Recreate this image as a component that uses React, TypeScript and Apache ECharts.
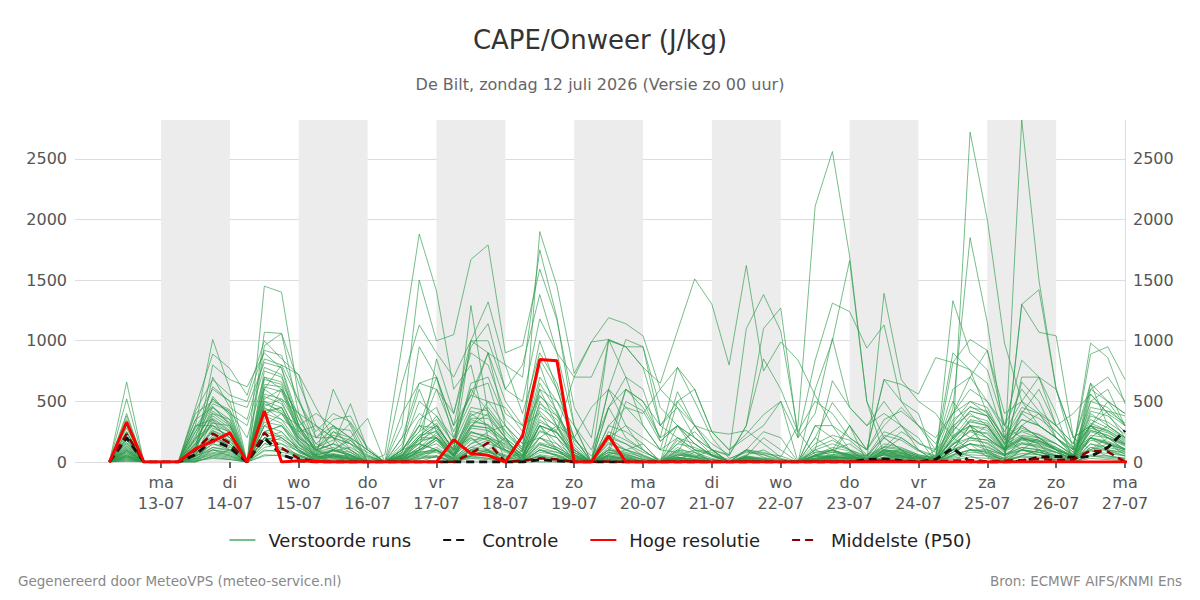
import { useEffect, useRef } from "react";
import * as echarts from "echarts";

const FONT = "DejaVu Sans";

// time layout: first value 12-07 06:00 UTC, one value every 6 hours
const START_UTC = Date.UTC(2026, 6, 12, 6);
const STEP_MS = 6 * 3600 * 1000;
const AXIS_MIN = Date.UTC(2026, 6, 11, 18);
const AXIS_MAX = Date.UTC(2026, 6, 27, 0);
const tickDays = [13, 14, 15, 16, 17, 18, 19, 20, 21, 22, 23, 24, 25, 26, 27];
const nightBandDays = [13, 15, 17, 19, 21, 23, 25];
const dayNames = ["zo", "ma", "di", "wo", "do", "vr", "za"];
const yTicks = [0, 500, 1000, 1500, 2000, 2500];

// Hoge resolutie (HRES)
const hres = [0,330,0, 0,0,110,170, 240,0,420,0, 10,5,0,0, 0,0,0,0, 0,185,70,55, 0,215,845,835, 0,0,215,0, 0,0,0,0, 0,0,0,0, 0,0,0,0, 0,0,0,0, 0,0,0,0, 0,0,0,0, 0,0,0,0, 0,0,0,0, 0];
// Controle
const control = [0,200,0, 0,0,60,180, 120,0,200,60, 10,0,0,0, 0,0,0,0, 0,0,0,0, 0,0,20,10, 0,0,0,0, 0,0,0,0, 0,0,0,0, 0,0,0,0, 0,20,25,10, 0,20,115,0, 0,0,5,40, 45,40,45,120, 260];
// Middelste (P50)
const p50 = [0,230,0, 0,0,100,235, 155,0,240,115, 30,5,0,0, 0,0,0,0, 0,0,70,160, 0,10,30,20, 0,0,5,0, 0,0,5,5, 0,0,5,0, 0,0,5,5, 5,5,10,5, 0,5,10,15, 5,10,15,25, 15,20,95,85, 0];

// Verstoorde runs (ensemble members)
const m01 = [0,660,0, 0,0,120,540, 380,0,1450,1400, 530,100,30,0, 0,0,150,600, 250,40,200,90, 0,20,600,300, 0,0,40,20, 0,0,80,300, 250,230,260,150, 40,300,2110,2560, 1700,500,60,20, 0,0,100,300, 60,20,200,150, 0,0,600,500, 300];
const m02 = [0,520,0, 0,0,300,1010, 600,0,1070,1060, 400,50,600,300, 0,0,50,200, 300,100,1290,400, 0,10,300,150, 0,0,20,10, 0,0,20,80, 0,0,50,20, 0,0,200,490, 300,100,680,500, 400,0,1330,900, 760,300,200,100, 50,0,560,400, 200];
const m03 = [0,400,0, 0,0,450,890, 770,550,1000,850, 720,450,200,0, 0,60,960,1880, 1410,600,800,200, 0,100,1900,1450, 730,990,1190,1140, 1040,600,780,500, 200,30,80,60, 20,0,200,100, 40,0,20,10, 0,0,80,150, 40,0,1300,1420, 600,100,980,860, 480];
const m04 = [0,380,0, 0,0,200,620, 500,0,960,1060, 650,300,100,200, 360,0,300,1500, 1000,1050,1670,1790, 900,960,1590,1170, 450,200,1010,950, 780,300,500,600, 250,100,230,390, 500,0,300,200, 100,0,60,30, 0,60,440,1850, 1150,200,100,60, 0,0,200,150, 100];
const m05 = [0,330,0, 0,0,100,800, 680,620,900,770, 300,0,0,0, 0,0,650,1130, 900,700,1000,1320, 800,700,1750,1190, 300,0,1000,950, 780,650,1080,1510, 1300,800,1620,750, 990,840,550,300, 100,0,30,20, 0,0,200,300, 100,60,700,700, 300,100,200,100, 50];
const m06 = [0,300,0, 0,0,50,700, 450,350,850,800, 500,200,350,380, 100,0,80,950, 700,300,950,1140, 600,800,1380,900, 300,0,600,450, 300,100,200,100, 60,20,100,40, 0,0,100,50, 20,0,30,0, 0,40,820,1010, 920,300,840,700, 400,0,300,200, 150];
const m07 = [0,250,0, 0,0,400,500, 430,0,750,700, 300,100,250,150, 0,0,30,100, 850,400,1000,1000, 600,500,1180,900, 700,700,1010,950, 950,450,300,200, 100,50,300,1100, 1270,200,840,1310, 1240,940,1130,500, 300,200,400,700, 920,400,500,700, 600,200,300,500, 400];
const m08 = [0,200,0, 0,0,150,450, 350,0,700,600, 400,300,200,100, 0,0,50,300, 700,200,500,900, 300,100,800,400, 100,0,200,100, 50,0,60,40, 100,60,1100,1380, 1080,250,60,40, 40,0,200,100, 0,100,900,760, 650,200,400,300, 200,100,890,950, 680];
const m09 = [0,180,0, 0,0,250,520, 400,0,600,500, 200,100,300,200, 0,0,400,650, 600,400,900,800, 400,300,1000,600, 200,0,450,700, 600,170,300,100, 50,0,20,10, 0,0,50,20, 0,0,100,200, 100,0,300,400, 300,100,660,500, 200,50,400,300, 200];
const m10 = [0,150,0, 0,0,50,350, 250,0,500,450, 150,0,50,20, 0,0,100,250, 350,150,600,650, 200,0,500,300, 100,0,50,30, 0,0,40,20, 0,0,0,0, 0,0,20,50, 300,100,680,640, 560,860,820,760, 400,200,300,200, 100,0,500,600, 300];
const m11 = [0,120,0, 0,0,200,300, 200,0,400,350, 250,100,150,480, 100,0,0,200, 300,100,400,300, 100,50,200,300, 200,0,100,50, 0,0,300,200, 100,0,20,0, 0,0,50,100, 300,0,1390,680, 500,400,200,2720, 2000,980,500,300, 200,100,300,150, 100];
const m12 = [0,100,0, 0,0,80,250, 150,0,300,250, 100,0,100,80, 0,0,200,400, 300,100,200,100, 0,0,100,50, 0,0,0,0, 0,0,0,0, 0,0,0,0, 0,0,20,40, 60,50,100,80, 0,0,100,150, 100,50,2820,1500, 600,200,100,50, 30];
const m13 = [0,80,0, 0,0,0,200, 100,0,200,150, 50,0,0,0, 0,0,100,300, 200,100,1000,900, 500,300,400,200, 0,0,0,0, 0,0,0,0, 0,0,0,0, 0,0,0,0, 0,0,30,50, 0,0,200,100, 100,0,1300,1070, 1040,200,300,200, 100];
const m14 = [0,60,0, 0,0,100,400, 300,0,600,800, 720,200,300,100, 0,0,50,100, 200,50,300,400, 200,0,300,100, 0,0,50,20, 0,0,20,0, 0,0,0,0, 0,0,600,1000, 1660,500,200,100, 0,0,100,50, 0,0,50,100, 0,0,0,0, 0];
const m15 = [0,50,0, 0,0,0,100, 50,0,300,200, 100,0,0,0, 0,0,0,100, 200,0,100,50, 0,0,200,100, 0,0,100,600, 500,300,200,100, 0,0,0,0, 0,0,50,100, 50,0,0,0, 0,0,0,100, 50,0,100,200, 100,50,100,200, 100];
const m16 = [0,40,0, 0,0,300,300, 200,0,500,400, 300,400,300,200, 100,0,0,50, 100,0,50,100, 0,0,50,0, 0,0,0,0, 0,0,0,0, 0,0,0,0, 0,0,0,0, 0,0,0,0, 0,0,50,200, 300,100,400,600, 300,400,560,400, 300];
const m17 = [0,30,0, 0,0,0,50, 100,0,200,100, 50,0,0,0, 0,0,0,0, 0,0,50,30, 0,0,0,0, 0,0,0,0, 0,0,500,300, 100,0,0,0, 0,0,100,670, 450,300,500,300, 100,0,100,300, 200,100,300,200, 100,0,650,300, 200];
const m18 = [0,20,0, 0,0,50,100, 80,0,300,400, 200,100,50,0, 0,0,30,150, 100,20,80,50, 0,0,100,60, 0,0,20,10, 0,0,30,20, 0,0,40,10, 0,0,20,30, 50,20,60,80, 40,0,150,200, 180,60,150,120, 80,0,200,150, 60];
const m19 = [0,300,0, 0,0,350,600, 500,450,820,780, 350,150,280,260, 0,0,80,350, 450,120,650,700, 350,200,850,600, 150,0,250,180, 100,0,120,60, 20,0,30,20, 0,0,50,40, 30,0,80,50, 0,30,250,420, 380,150,350,300, 200,60,420,380, 250];
const m20 = [0,220,0, 0,0,180,420, 320,0,560,520, 280,80,120,60, 0,0,60,220, 320,90,420,380, 200,80,650,420, 120,0,160,100, 60,0,90,40, 0,0,20,0, 0,0,30,50, 70,30,120,100, 50,40,320,500, 450,180,280,220, 150,50,320,260, 180];
const m21 = [0,160,0, 0,0,120,380, 280,0,480,420, 180,60,90,120, 40,0,40,180, 260,60,350,300, 180,50,420,280, 80,0,120,60, 20,0,40,20, 0,0,10,0, 0,0,20,30, 40,20,80,60, 30,20,180,350, 320,120,200,180, 100,40,250,200, 140];
const m22 = [0,140,0, 0,0,80,280, 220,0,380,320, 140,40,60,40, 0,0,30,120, 200,40,280,260, 140,40,350,240, 60,0,80,40, 0,0,30,10, 0,0,0,0, 0,0,20,20, 30,10,60,40, 20,10,140,260, 240,100,160,140, 80,30,200,160, 110];
const m23 = [0,110,0, 0,0,220,460, 300,0,680,640, 260,120,180,320, 60,0,20,80, 180,30,150,250, 300,150,200,120, 40,0,60,100, 150,0,180,80, 30,0,60,100, 20,0,150,220, 180,60,120,250, 160,80,300,200, 180,100,420,360, 250,120,300,420, 380];
const m24 = [0,90,0, 0,0,60,180, 150,0,250,300, 100,30,40,20, 0,0,120,500, 380,200,600,420, 250,120,700,500, 300,100,450,200, 100,0,60,30, 0,0,0,0, 0,0,0,10, 0,0,20,40, 30,0,60,100, 80,30,100,60, 40,0,120,90, 50];
const m25 = [0,70,0, 0,0,40,150, 120,0,200,180, 80,20,100,180, 50,0,10,60, 120,30,280,500, 450,250,550,380, 180,50,220,150, 80,20,150,120, 60,0,100,80, 30,0,120,180, 100,40,220,180, 90,40,280,460, 380,160,250,200, 150,60,350,280, 190];
const m26 = [0,50,0, 0,0,30,120, 90,0,180,220, 120,40,60,30, 0,0,40,100, 150,50,220,180, 90,30,260,200, 60,0,100,80, 40,0,70,50, 20,0,90,60, 0,0,60,120, 90,30,150,120, 60,30,220,300, 280,110,190,170, 120,40,280,240, 160];
const m27 = [0,250,0, 0,0,280,520, 400,300,780,720, 300,90,150,100, 20,0,200,650, 700,300,550,900, 800,400,900,650, 200,450,600,300, 100,0,200,150, 50,0,100,250, 200,0,300,300, 200,100,350,420, 300,100,600,700, 500,300,600,420, 300,150,600,700, 500];
const m28 = [0,200,0, 0,0,160,360, 260,0,620,580, 230,70,100,60, 0,0,100,300, 280,80,380,450, 260,90,480,380, 100,0,600,1010, 950,300,450,200, 60,0,40,20, 0,0,40,60, 50,20,90,70, 40,20,200,380, 340,140,220,200, 120,50,300,260, 170];
const m29 = [0,180,0, 0,0,90,260, 170,0,420,450, 180,50,70,40, 0,0,50,160, 220,60,300,280, 160,60,330,260, 700,990,1010,700, 300,100,80,40, 20,0,30,10, 0,0,30,40, 40,10,70,50, 30,10,160,300, 260,100,180,160, 100,40,220,200, 130];
const m30 = [0,130,0, 0,0,70,220, 130,0,330,300, 120,40,50,30, 0,0,70,220, 250,70,330,310, 180,60,300,240, 80,0,300,450, 400,600,450,300, 100,0,40,20, 0,0,50,80, 60,30,100,90, 50,20,200,330, 300,120,210,180, 110,50,260,220, 150];
const m31 = [0,100,0, 0,0,140,330, 240,0,520,600, 280,200,200,150, 80,0,0,100, 200,50,180,200, 120,40,160,120, 40,0,300,250, 150,0,100,50, 0,0,40,0, 0,0,0,30, 20,0,40,60, 30,0,100,150, 120,60,100,80, 50,0,150,100, 80];
const m32 = [0,90,0, 0,0,60,200, 180,0,460,520, 400,150,100,50, 0,0,20,80, 100,30,120,180, 80,20,150,100, 30,0,60,40, 0,0,150,250, 100,0,50,200, 100,0,80,100, 60,0,100,50, 0,0,150,250, 200,80,300,400, 200,80,300,250, 150];
const m33 = [0,60,0, 0,0,30,80, 60,0,120,150, 90,20,40,20, 0,0,20,60, 80,10,100,90, 50,10,120,80, 30,0,50,30, 0,0,20,10, 0,0,0,0, 0,0,10,20, 20,0,40,30, 10,0,80,150, 130,50,100,80, 50,20,120,100, 70];
const m34 = [0,40,0, 0,0,20,60, 40,0,90,100, 60,10,20,10, 0,0,10,40, 50,10,60,60, 30,0,80,60, 20,0,30,20, 0,0,10,0, 0,0,0,0, 0,0,0,10, 10,0,20,20, 0,0,50,100, 90,30,70,60, 30,10,90,70, 50];
const m35 = [0,350,0, 0,0,420,680, 550,500,920,880, 500,250,400,330, 120,0,100,250, 600,250,550,500, 300,150,600,500, 200,0,200,150, 50,0,100,80, 0,0,50,30, 0,0,100,150, 100,50,200,300, 200,0,400,600, 500,250,500,400, 250,100,500,450, 300];
const m36 = [0,280,0, 0,0,250,480, 420,200,700,660, 350,120,220,180, 30,0,60,200, 380,150,450,420, 230,100,540,420, 100,0,180,600, 450,200,300,150, 60,0,20,0, 0,0,50,100, 150,50,250,200, 100,50,350,450, 420,180,350,300, 200,80,450,420, 320];
const m37 = [0,240,0, 0,0,190,400, 350,0,640,620, 300,100,150,80, 0,0,40,150, 300,100,360,360, 200,80,450,350, 80,0,150,100, 30,0,60,40, 0,0,30,0, 0,0,30,60, 80,30,130,110, 60,30,260,420, 380,150,260,230, 150,60,380,330, 230];
const m38 = [0,190,0, 0,0,130,320, 300,0,540,480, 220,60,90,60, 0,0,30,120, 240,70,300,280, 170,60,380,300, 60,0,100,70, 20,0,40,20, 0,0,10,0, 0,0,20,40, 40,20,90,70, 40,20,180,340, 300,110,190,170, 100,40,260,220, 140];
const m39 = [0,160,0, 0,0,100,260, 200,0,440,400, 170,40,60,30, 0,0,20,90, 180,50,240,220, 130,40,300,240, 40,0,80,50, 10,0,30,10, 0,0,0,0, 0,0,10,30, 30,10,70,50, 30,10,140,260, 230,90,150,130, 80,30,200,170, 110];
const m40 = [0,130,0, 0,0,350,450, 320,0,450,350, 150,50,250,200, 100,0,0,0, 50,0,50,100, 200,0,100,50, 0,0,0,0, 0,0,0,0, 0,0,0,0, 0,0,0,0, 0,0,0,0, 0,0,0,0, 0,0,50,100, 0,0,50,30, 20];
const m41 = [0,110,0, 0,0,0,50, 30,0,100,80, 50,0,0,0, 0,0,0,0, 0,0,0,0, 0,0,0,0, 0,0,0,0, 0,0,0,0, 0,0,0,0, 0,0,0,0, 0,0,0,0, 0,0,0,0, 0,0,0,0, 0,0,0,0, 0];
const m42 = [0,90,0, 0,0,10,40, 20,0,60,50, 30,0,0,0, 0,0,0,30, 40,0,30,20, 0,0,50,20, 0,0,0,0, 0,0,0,0, 0,0,0,0, 0,0,0,0, 0,0,0,0, 0,0,20,40, 30,0,20,10, 0,0,30,20, 10];
const m43 = [0,75,0, 0,0,20,70, 50,0,150,200, 100,20,50,30, 0,0,20,70, 90,20,120,100, 60,20,140,100, 30,0,60,500, 420,170,300,150, 50,0,20,10, 0,0,30,40, 30,10,60,40, 20,0,100,180, 160,60,120,100, 60,20,150,120, 90];
const m44 = [0,55,0, 0,0,10,30, 20,0,50,60, 30,0,10,0, 0,0,10,30, 40,0,40,30, 20,0,50,30, 10,0,20,10, 0,0,0,0, 0,0,0,0, 0,0,0,0, 0,0,10,10, 0,0,40,80, 70,20,50,40, 20,0,60,50, 30];
const m45 = [0,45,0, 0,0,150,300, 250,0,400,450, 200,50,100,50, 0,0,100,150, 100,30,150,200, 100,30,200,150, 50,0,200,300, 200,100,580,300, 150,60,300,850, 600,250,500,400, 200,100,300,450, 300,150,400,500, 400,200,450,400, 300,150,650,500, 400];
const m46 = [0,35,0, 0,0,50,150, 100,0,250,200, 80,20,50,20, 0,0,50,200, 200,50,250,200, 100,30,250,200, 50,0,450,600, 500,200,780,600, 250,100,200,300, 500,200,400,1020, 450,300,400,300, 150,100,500,300, 200,100,200,150, 100,50,200,300, 200];
const m47 = [0,25,0, 0,0,30,100, 70,0,150,120, 60,10,30,10, 0,0,30,80, 100,20,100,80, 40,10,100,80, 20,0,40,30, 0,0,20,10, 0,0,0,0, 0,0,0,0, 0,0,10,10, 0,0,30,60, 50,20,40,30, 20,0,50,40, 30];
const m48 = [0,15,0, 0,0,300,350, 150,0,350,600, 250,300,200,150, 50,0,0,20, 100,0,50,80, 50,0,60,40, 0,0,30,20, 0,0,50,100, 80,0,100,70, 50,0,80,90, 60,0,80,100, 50,0,60,100, 80,0,100,80, 50,0,100,150, 80];
const m49 = [0,10,0, 0,0,100,200, 150,0,250,300, 150,50,0,0, 0,0,0,50, 50,0,100,150, 100,0,150,100, 0,0,0,0, 0,0,0,0, 0,0,0,0, 0,0,0,0, 0,0,0,0, 0,0,0,0, 0,0,0,0, 0,0,0,0, 0];
const m50 = [0,5,0, 0,0,50,120, 100,0,200,250, 100,30,60,50, 0,0,60,180, 200,60,250,200, 150,50,300,250, 60,0,80,60, 20,0,40,20, 0,0,40,30, 20,0,60,80, 60,20,100,80, 40,0,120,200, 150,60,120,100, 80,30,180,150, 100];

const members = [m01, m02, m03, m04, m05, m06, m07, m08, m09, m10, m11, m12, m13, m14, m15, m16, m17, m18, m19, m20, m21, m22, m23, m24, m25, m26, m27, m28, m29, m30, m31, m32, m33, m34, m35, m36, m37, m38, m39, m40, m41, m42, m43, m44, m45, m46, m47, m48, m49, m50];

const dayUTC = (d: number) => Date.UTC(2026, 6, d, 0);
const toPairs = (vals: number[]) => vals.map((v, i) => [START_UTC + i * STEP_MS, v]);
const pad = (n: number) => (n < 10 ? "0" + n : "" + n);

export default function App() {
  const ref = useRef<HTMLDivElement>(null);
  useEffect(() => {
    if (!ref.current) return;
    const chart = echarts.init(ref.current, undefined, { renderer: "svg" });
    const allVals = ([] as number[]).concat(...members, hres, control, p50);
    const yMax = Math.max(...allVals);
    const tickVals = tickDays.map(dayUTC);

    const memberSeries = members.map((m) => ({
      type: "line",
      name: "Verstoorde runs",
      data: toPairs(m),
      symbol: "none",
      silent: true,
      z: 2,
      itemStyle: { color: "#2e9b4b" },
      lineStyle: { color: "#2e9b4b", width: 1, opacity: 0.65 },
    }));

    const yAxisBase = {
      type: "value",
      min: 0,
      max: yMax,
      axisLabel: {
        customValues: yTicks,
        color: "#555",
        fontSize: 16,
        fontFamily: FONT,
        margin: 8,
        formatter: (v: number) => String(v),
      },
      axisTick: { show: false, customValues: yTicks },
      splitLine: { show: true, lineStyle: { color: "#dcdcdc", width: 1 } },
    };

    chart.setOption({
      animation: false,
      title: [
        {
          text: "CAPE/Onweer (J/kg)",
          left: "center",
          top: 22,
          textStyle: { fontSize: 26, fontWeight: "normal", color: "#333", fontFamily: FONT },
        },
        {
          text: "De Bilt, zondag 12 juli 2026 (Versie zo 00 uur)",
          left: "center",
          top: 71,
          textStyle: { fontSize: 16, fontWeight: "normal", color: "#666", fontFamily: FONT },
        },
        {
          text: "Gegenereerd door MeteoVPS (meteo-service.nl)",
          left: 13,
          top: 569,
          textStyle: { fontSize: 13.5, fontWeight: "normal", color: "#888", fontFamily: FONT },
        },
        {
          text: "Bron: ECMWF AIFS/KNMI Ens",
          right: 13,
          top: 569,
          textStyle: { fontSize: 13.5, fontWeight: "normal", color: "#888", fontFamily: FONT },
        },
      ],
      legend: {
        data: ["Verstoorde runs", "Controle", "Hoge resolutie", "Middelste (P50)"],
        top: 526,
        left: "center",
        itemWidth: 26,
        itemHeight: 14,
        itemGap: 31,
        itemStyle: { opacity: 0 },
        textStyle: { fontSize: 18, color: "#222", fontFamily: FONT, padding: [0, 0, 0, 8] },
      },
      grid: { left: 75, right: 75, top: 120, bottom: 138 },
      xAxis: {
        type: "value",
        min: AXIS_MIN,
        max: AXIS_MAX,
        axisLine: { show: false },
        axisTick: {
          show: true,
          customValues: tickVals,
          length: 6,
          lineStyle: { color: "#666", width: 2 },
        },
        splitLine: { show: false },
        axisLabel: {
          customValues: tickVals,
          color: "#555",
          fontSize: 16,
          fontFamily: FONT,
          lineHeight: 21,
          margin: 10,
          hideOverlap: false,
          formatter: (v: number) => {
            const d = new Date(v);
            return dayNames[d.getUTCDay()] + "\n" + pad(d.getUTCDate()) + "-" + pad(d.getUTCMonth() + 1);
          },
        },
      },
      yAxis: [
        { ...yAxisBase, position: "left", axisLine: { show: false } },
        {
          ...yAxisBase,
          position: "right",
          axisLine: { show: true, lineStyle: { color: "#dddddd", width: 1 } },
          splitLine: { show: false },
        },
      ],
      series: [
        {
          type: "line",
          name: "nacht",
          data: [],
          silent: true,
          z: -1,
          markArea: {
            silent: true,
            itemStyle: { color: "#ececec" },
            data: nightBandDays.map((d) => [{ xAxis: dayUTC(d) }, { xAxis: dayUTC(d + 1) }]),
          },
        },
        ...memberSeries,
        {
          type: "line",
          name: "Controle",
          data: toPairs(control),
          symbol: "none",
          silent: true,
          z: 4,
          itemStyle: { color: "#111" },
          lineStyle: { color: "#111", width: 3, type: [8, 5] },
        },
        {
          type: "line",
          name: "Middelste (P50)",
          data: toPairs(p50),
          symbol: "none",
          silent: true,
          z: 5,
          itemStyle: { color: "#8b0000" },
          lineStyle: { color: "#8b0000", width: 2.5, type: [8, 5] },
        },
        {
          type: "line",
          name: "Hoge resolutie",
          data: toPairs(hres),
          symbol: "none",
          silent: true,
          z: 6,
          itemStyle: { color: "#ff0000" },
          lineStyle: { color: "#ff0000", width: 3 },
        },
      ],
    });
    return () => chart.dispose();
  }, []);

  return <div ref={ref} style={{ width: 1200, height: 600, position: "absolute", left: 0, top: 0 }} />;
}
